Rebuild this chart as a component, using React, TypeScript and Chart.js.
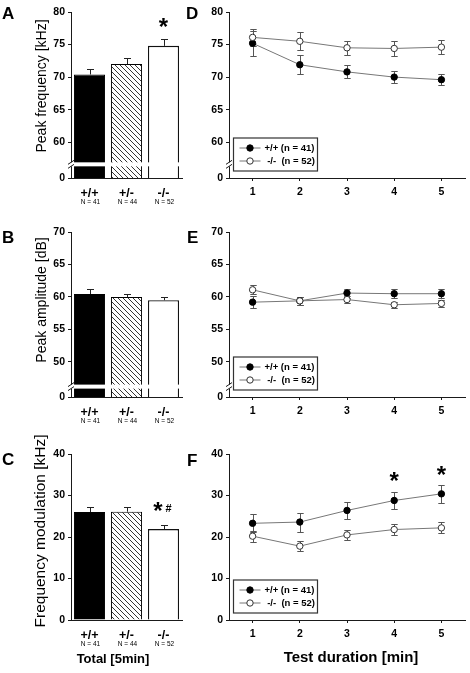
import React, { useEffect, useRef } from 'react';
import { Chart, registerables } from 'chart.js';

Chart.register(...registerables);

const FONT = '"Liberation Sans", Arial, Helvetica, sans-serif';
Chart.defaults.font.family = FONT;

// ---------- data ----------
const genotypes = ['+/+', '+/-', '-/-'];
const groupSizes = ['N = 41', 'N = 44', 'N = 52'];

const peakFreqTotal = [70.4, 72.0, 74.8];
const peakFreqTotalSem = [0.8, 0.9, 1.0];
const peakAmpTotal = [60.45, 60.0, 59.5];
const peakAmpTotalSem = [0.75, 0.5, 0.45];
const fmTotal = [26.0, 26.1, 21.9];
const fmTotalSem = [1.3, 1.2, 1.1];

const minutes = [1, 2, 3, 4, 5];
const legendLabels = ['+/+ (n = 41)', ' -/-  (n = 52)'];

const peakFreqWT = [75.2, 71.9, 70.8, 70.0, 69.6];
const peakFreqWTSem = [1.9, 1.5, 1.0, 0.9, 0.8];
const peakFreqKO = [76.1, 75.5, 74.5, 74.4, 74.6];
const peakFreqKOSem = [1.3, 1.4, 1.1, 1.1, 1.1];

const peakAmpWT = [59.2, 59.4, 60.6, 60.5, 60.5];
const peakAmpWTSem = [0.9, 0.6, 0.7, 0.7, 0.7];
const peakAmpKO = [61.1, 59.4, 59.6, 58.8, 59.0];
const peakAmpKOSem = [0.7, 0.6, 0.5, 0.5, 0.5];

const fmWT = [23.3, 23.6, 26.4, 28.8, 30.4];
const fmWTSem = [2.2, 2.3, 2.1, 2.1, 2.2];
const fmKO = [20.2, 17.8, 20.5, 21.8, 22.2];
const fmKOSem = [1.3, 1.2, 1.2, 1.3, 1.3];

const freqTicks = [60, 65, 70, 75, 80];
const ampTicks = [50, 55, 60, 65, 70];
const fmTicks = [0, 10, 20, 30, 40];

// broken axes: the lowest position is labelled "0"
const freqAxisFloor = 54.5;
const freqBreak = 56.6;
const ampAxisFloor = 44.6;
const ampBreak = 46.2;

// significance marks
const sigA = [{ at: 2, value: 78.0, text: '*', shift: 0 }];
const sigC = [
  { at: 2, value: 26.8, text: '*', shift: -5.5 },
  { at: 2, value: 26.8, text: '#', shift: 5 },
];
const sigF = [
  { at: 4, value: 34.1, text: '*', shift: 0 },
  { at: 5, value: 35.4, text: '*', shift: 0 },
];

// ---------- style ----------
const AX = '#1a1a1a';
const LINE = '#777';

function makeHatch() {
  const s = 5;
  const c = document.createElement('canvas');
  c.width = s;
  c.height = s;
  const g = c.getContext('2d')!;
  g.fillStyle = '#fff';
  g.fillRect(0, 0, s, s);
  g.strokeStyle = '#111';
  g.lineWidth = 0.85;
  g.beginPath();
  g.moveTo(-1, -1);
  g.lineTo(s + 1, s + 1);
  g.moveTo(-1, s - 1);
  g.lineTo(1, s + 1);
  g.moveTo(s - 1, -1);
  g.lineTo(s + 1, 1);
  g.stroke();
  return g.createPattern(c, 'repeat');
}

function drawErrors(chart: any, opts: any) {
  const ctx = chart.ctx;
  const ys = chart.scales.y;
  chart.data.datasets.forEach((ds: any, di: number) => {
    const errs = ds.errors;
    if (!errs) return;
    const meta = chart.getDatasetMeta(di);
    meta.data.forEach((el: any, i: number) => {
      const raw = ds.data[i];
      const v = typeof raw === 'number' ? raw : raw.y;
      const x = Math.round(el.x) + 0.5;
      const top = Math.round(ys.getPixelForValue(v + errs[i])) + 0.5;
      const bot = opts.mode === 'up' ? ys.getPixelForValue(v) : Math.round(ys.getPixelForValue(v - errs[i])) + 0.5;
      const cap = opts.cap;
      ctx.save();
      ctx.strokeStyle = opts.color;
      ctx.lineWidth = 1;
      ctx.beginPath();
      ctx.moveTo(x, top);
      ctx.lineTo(x, bot);
      ctx.moveTo(x - cap, top);
      ctx.lineTo(x + cap, top);
      if (opts.mode !== 'up') {
        ctx.moveTo(x - cap, bot);
        ctx.lineTo(x + cap, bot);
      }
      ctx.stroke();
      ctx.restore();
    });
  });
}

const errorBarPlugin = {
  id: 'errorBars',
  beforeDatasetsDraw(chart: any, _a: any, opts: any) {
    if (opts && opts.mode === 'both') drawErrors(chart, opts);
  },
  afterDatasetsDraw(chart: any, _a: any, opts: any) {
    if (opts && opts.mode === 'up') drawErrors(chart, opts);
  },
};

const breakPlugin = {
  id: 'axisBreak',
  afterDatasetsDraw(chart: any, _a: any, opts: any) {
    if (!opts || opts.value == null) return;
    const ctx = chart.ctx;
    const y = chart.scales.y.getPixelForValue(opts.value);
    const L = chart.chartArea.left;
    const w = opts.full ? chart.chartArea.right - L + 6 : 9;
    ctx.save();
    ctx.fillStyle = '#fff';
    ctx.fillRect(L - 5, y - 2, w, 4);
    ctx.strokeStyle = AX;
    ctx.lineWidth = 1;
    ctx.beginPath();
    [y - 2, y + 2].forEach((yy) => {
      ctx.moveTo(L - 3, yy + 2);
      ctx.lineTo(L + 3, yy - 2);
    });
    ctx.stroke();
    ctx.restore();
  },
};

const catLabelPlugin = {
  id: 'catLabels',
  afterDraw(chart: any, _a: any, opts: any) {
    if (!opts || !opts.labels) return;
    const ctx = chart.ctx;
    const xs = chart.scales.x;
    const b = chart.chartArea.bottom;
    ctx.save();
    ctx.fillStyle = '#000';
    ctx.textAlign = 'center';
    ctx.textBaseline = 'middle';
    opts.labels.forEach((lab: string, i: number) => {
      const x = xs.getPixelForValue(i);
      ctx.font = `bold 12.5px ${FONT}`;
      ctx.fillText(lab, x, b + 16);
      ctx.font = `6.5px ${FONT}`;
      ctx.fillText(opts.sizes[i], x + 1, b + 24.5);
    });
    ctx.restore();
  },
};

const sigPlugin = {
  id: 'sigMarks',
  afterDraw(chart: any, _a: any, opts: any) {
    if (!opts || !opts.items) return;
    const ctx = chart.ctx;
    ctx.save();
    ctx.fillStyle = '#000';
    ctx.textAlign = 'center';
    ctx.textBaseline = 'alphabetic';
    opts.items.forEach((it: any) => {
      const x = chart.scales.x.getPixelForValue(it.at) + (it.shift || 0);
      const y = chart.scales.y.getPixelForValue(it.value);
      if (it.text === '*') {
        ctx.font = `bold 24px ${FONT}`;
        ctx.fillText('*', x, y + 10.2);
      } else {
        ctx.font = `bold 11px ${FONT}`;
        ctx.fillText(it.text, x, y + 3.5);
      }
    });
    ctx.restore();
  },
};

const boxLegendPlugin = {
  id: 'boxLegend',
  afterDraw(chart: any, _a: any, opts: any) {
    if (!opts || !opts.labels) return;
    const ctx = chart.ctx;
    const { left, bottom } = chart.chartArea;
    const bx = left + 4.5;
    const by = bottom - 40;
    const w = 84;
    const h = 33;
    ctx.save();
    ctx.fillStyle = '#fff';
    ctx.fillRect(bx, by, w, h);
    ctx.strokeStyle = '#333';
    ctx.lineWidth = 1.2;
    ctx.strokeRect(bx, by, w, h);
    chart.data.datasets.forEach((ds: any, i: number) => {
      const ry = by + 10 + i * 13;
      ctx.strokeStyle = LINE;
      ctx.lineWidth = 1;
      ctx.beginPath();
      ctx.moveTo(bx + 6, ry);
      ctx.lineTo(bx + 27, ry);
      ctx.stroke();
      ctx.beginPath();
      ctx.arc(bx + 16.5, ry, 3.2, 0, Math.PI * 2);
      ctx.fillStyle = ds.pointBackgroundColor;
      ctx.fill();
      ctx.strokeStyle = ds.pointBorderColor;
      ctx.stroke();
      ctx.fillStyle = '#000';
      ctx.font = `bold 9.5px ${FONT}`;
      ctx.textBaseline = 'middle';
      ctx.textAlign = 'left';
      ctx.fillText(opts.labels[i], bx + 31, ry + 0.5);
    });
    ctx.restore();
  },
};

// ---------- layout ----------
type Panel = {
  kind: 'bar' | 'line';
  box: { x: number; y: number; w: number; h: number };
  area: { l: number; t: number; r: number; b: number };
  min: number;
  max: number;
  ticks: number[];
  floorLabel: boolean;
  brk: number | null;
  values?: number[];
  sems?: number[];
  wt?: number[];
  wtSem?: number[];
  ko?: number[];
  koSem?: number[];
  sig?: any[];
};

const PANELS: Panel[] = [
  { kind: 'bar', box: { x: 0, y: 0, w: 200, h: 225 }, area: { l: 71, t: 12, r: 182, b: 178 }, min: freqAxisFloor, max: 80, ticks: freqTicks, floorLabel: true, brk: freqBreak, values: peakFreqTotal, sems: peakFreqTotalSem, sig: sigA },
  { kind: 'bar', box: { x: 0, y: 215, w: 200, h: 235 }, area: { l: 71, t: 232, r: 182, b: 397 }, min: ampAxisFloor, max: 70, ticks: ampTicks, floorLabel: true, brk: ampBreak, values: peakAmpTotal, sems: peakAmpTotalSem },
  { kind: 'bar', box: { x: 0, y: 440, w: 200, h: 233 }, area: { l: 71, t: 454, r: 182, b: 620 }, min: 0, max: 40, ticks: fmTicks, floorLabel: false, brk: null, values: fmTotal, sems: fmTotalSem, sig: sigC },
  { kind: 'line', box: { x: 185, y: 0, w: 285, h: 225 }, area: { l: 229, t: 12, r: 467, b: 178 }, min: freqAxisFloor, max: 80, ticks: freqTicks, floorLabel: true, brk: freqBreak, wt: peakFreqWT, wtSem: peakFreqWTSem, ko: peakFreqKO, koSem: peakFreqKOSem },
  { kind: 'line', box: { x: 185, y: 215, w: 285, h: 235 }, area: { l: 229, t: 232, r: 467, b: 397 }, min: ampAxisFloor, max: 70, ticks: ampTicks, floorLabel: true, brk: ampBreak, wt: peakAmpWT, wtSem: peakAmpWTSem, ko: peakAmpKO, koSem: peakAmpKOSem },
  { kind: 'line', box: { x: 185, y: 440, w: 285, h: 233 }, area: { l: 229, t: 454, r: 467, b: 620 }, min: 0, max: 40, ticks: fmTicks, floorLabel: false, brk: null, wt: fmWT, wtSem: fmWTSem, ko: fmKO, koSem: fmKOSem, sig: sigF },
];

function yScale(p: Panel) {
  const all = p.floorLabel ? [p.min, ...p.ticks] : p.ticks;
  return {
    type: 'linear',
    min: p.min,
    max: p.max,
    afterBuildTicks: (s: any) => {
      s.ticks = all.map((v) => ({ value: v }));
    },
    afterFit: (s: any) => {
      s.width = p.area.l - p.box.x;
    },
    ticks: {
      callback: (v: any) => (p.floorLabel && v === p.min ? '0' : String(v)),
      font: { size: 10.5, weight: 'bold' },
      color: '#000',
      padding: 3,
    },
    grid: { display: true, drawOnChartArea: false, drawTicks: true, tickLength: 3, color: AX, lineWidth: 1 },
    border: { display: true, color: AX, width: 1 },
  };
}

function buildConfig(p: Panel): any {
  const padding = { top: p.area.t - p.box.y, right: p.box.x + p.box.w - p.area.r, left: 0, bottom: 0 };
  const xH = p.box.y + p.box.h - p.area.b;
  if (p.kind === 'bar') {
    return {
      type: 'bar',
      data: {
        labels: genotypes,
        datasets: [
          {
            data: p.values,
            errors: p.sems,
            backgroundColor: ['#000', makeHatch(), '#fff'],
            borderColor: ['#000', '#000', '#111'],
            borderWidth: [1, 1, 1.3],
            barPercentage: 0.84,
            categoryPercentage: 1,
          },
        ],
      },
      options: {
        responsive: false,
        animation: false,
        devicePixelRatio: 1,
        layout: { padding },
        plugins: {
          legend: { display: false },
          tooltip: { enabled: false },
          errorBars: { mode: 'up', color: '#222', cap: 3.5 },
          axisBreak: { value: p.brk, full: true },
          catLabels: { labels: genotypes, sizes: groupSizes },
          sigMarks: { items: p.sig || [] },
        },
        scales: {
          x: {
            grid: { display: false },
            border: { display: true, color: AX, width: 1 },
            ticks: { display: false },
            afterFit: (s: any) => {
              s.height = xH;
            },
          },
          y: yScale(p),
        },
      },
      plugins: [errorBarPlugin, breakPlugin, catLabelPlugin, sigPlugin],
    };
  }
  const pts = (vals: number[]) => minutes.map((m, i) => ({ x: m, y: vals[i] }));
  return {
    type: 'line',
    data: {
      datasets: [
        {
          label: legendLabels[0],
          data: pts(p.wt!),
          errors: p.wtSem,
          borderColor: LINE,
          borderWidth: 1,
          pointRadius: 3.2,
          pointBorderWidth: 1,
          pointBackgroundColor: '#000',
          pointBorderColor: '#000',
          order: 1,
        },
        {
          label: legendLabels[1],
          data: pts(p.ko!),
          errors: p.koSem,
          borderColor: LINE,
          borderWidth: 1,
          pointRadius: 3.2,
          pointBorderWidth: 1,
          pointBackgroundColor: '#fff',
          pointBorderColor: '#333',
          order: 0,
        },
      ],
    },
    options: {
      responsive: false,
      animation: false,
      devicePixelRatio: 1,
      layout: { padding },
      plugins: {
        legend: { display: false },
        tooltip: { enabled: false },
        errorBars: { mode: 'both', color: '#555', cap: 3.2 },
        axisBreak: { value: p.brk, full: false },
        boxLegend: { labels: legendLabels },
        sigMarks: { items: p.sig || [] },
      },
      scales: {
        x: {
          type: 'linear',
          min: 0.5,
          max: 5.5,
          afterBuildTicks: (s: any) => {
            s.ticks = minutes.map((v) => ({ value: v }));
          },
          afterFit: (s: any) => {
            s.height = xH;
          },
          ticks: { font: { size: 10.5, weight: 'bold' }, color: '#000', padding: 5 },
          grid: { display: true, drawOnChartArea: false, drawTicks: true, tickLength: 3, color: AX },
          border: { display: true, color: AX, width: 1 },
        },
        y: yScale(p),
      },
    },
    plugins: [errorBarPlugin, breakPlugin, boxLegendPlugin, sigPlugin],
  };
}

// ---------- text overlays ----------
const letters = [
  { t: 'A', x: 2, y: 5 },
  { t: 'D', x: 186, y: 5 },
  { t: 'B', x: 2, y: 229 },
  { t: 'E', x: 187, y: 229 },
  { t: 'C', x: 2, y: 451 },
  { t: 'F', x: 187, y: 452 },
];

const yTitles = [
  { t: 'Peak frequency [kHz]', cx: 41, cy: 86, size: 14 },
  { t: 'Peak amplitude [dB]', cx: 41, cy: 300, size: 14 },
  { t: 'Frequency modulation [kHz]', cx: 40, cy: 531, size: 15.5 },
];

const xTitles = [
  { t: 'Total [5min]', cx: 113, top: 652, size: 13 },
  { t: 'Test duration [min]', cx: 351, top: 649, size: 15 },
];

export default function App() {
  const canvases = useRef<(HTMLCanvasElement | null)[]>([]);

  useEffect(() => {
    const charts = PANELS.map((p, i) => new Chart(canvases.current[i] as HTMLCanvasElement, buildConfig(p)));
    return () => charts.forEach((c) => c.destroy());
  }, []);

  return (
    <div style={{ position: 'absolute', left: 0, top: 0, width: 470, height: 673, background: '#fff', fontFamily: FONT, color: '#000', overflow: 'hidden' }}>
      {PANELS.map((p, i) => (
        <canvas
          key={i}
          ref={(el) => {
            canvases.current[i] = el;
          }}
          width={p.box.w}
          height={p.box.h}
          style={{ position: 'absolute', left: p.box.x, top: p.box.y, width: p.box.w, height: p.box.h }}
        />
      ))}
      {letters.map((l) => (
        <div key={l.t} style={{ position: 'absolute', left: l.x, top: l.y, fontSize: 17, fontWeight: 'bold', lineHeight: 1 }}>
          {l.t}
        </div>
      ))}
      {yTitles.map((t) => (
        <div
          key={t.t}
          style={{ position: 'absolute', left: t.cx, top: t.cy, transform: 'translate(-50%, -50%) rotate(-90deg)', whiteSpace: 'nowrap', fontSize: t.size, lineHeight: 1 }}
        >
          {t.t}
        </div>
      ))}
      {xTitles.map((t) => (
        <div key={t.t} style={{ position: 'absolute', left: t.cx, top: t.top, transform: 'translateX(-50%)', whiteSpace: 'nowrap', fontSize: t.size, fontWeight: 'bold', lineHeight: 1 }}>
          {t.t}
        </div>
      ))}
    </div>
  );
}
